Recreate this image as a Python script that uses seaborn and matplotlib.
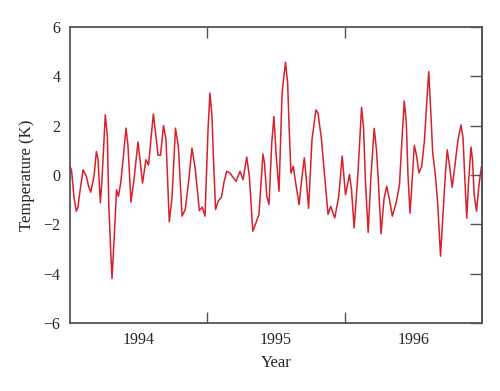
import numpy as np
import matplotlib
matplotlib.use("Agg")
import matplotlib.pyplot as plt
from matplotlib.ticker import FixedLocator, NullFormatter, FixedFormatter
import seaborn as sns
import pandas as pd

# Decimal year and temperature anomaly (K)
years = 1994 + np.array([
    0.000, 0.011, 0.029, 0.046, 0.058, 0.071, 0.095, 0.119, 0.135, 0.151,
    0.175, 0.192, 0.204, 0.221, 0.233, 0.248, 0.257, 0.272, 0.282, 0.296,
    0.306, 0.326, 0.339, 0.353, 0.369, 0.386, 0.408, 0.422, 0.444, 0.466,
    0.495, 0.510, 0.528, 0.553, 0.572, 0.590, 0.607, 0.626, 0.641, 0.659,
    0.681, 0.699, 0.723, 0.743, 0.768, 0.789, 0.816, 0.839, 0.863, 0.888,
    0.912, 0.942, 0.963, 0.983, 1.005, 1.019, 1.034, 1.046, 1.060, 1.080,
    1.103, 1.121, 1.141, 1.165, 1.187, 1.209, 1.238, 1.260, 1.287, 1.306,
    1.331, 1.354, 1.376, 1.391, 1.405, 1.416, 1.433, 1.449, 1.469, 1.485,
    1.500, 1.522, 1.544, 1.569, 1.585, 1.597, 1.609, 1.626, 1.640, 1.668,
    1.689, 1.706, 1.718, 1.737, 1.762, 1.791, 1.806, 1.831, 1.851, 1.879,
    1.898, 1.928, 1.957, 1.982, 2.006, 2.035, 2.050, 2.069, 2.096, 2.123,
    2.137, 2.152, 2.171, 2.192, 2.215, 2.232, 2.246, 2.265, 2.286, 2.306,
    2.325, 2.347, 2.376, 2.399, 2.419, 2.434, 2.449, 2.461, 2.476, 2.494,
    2.507, 2.523, 2.541, 2.561, 2.581, 2.597, 2.612, 2.626, 2.641, 2.659,
    2.678, 2.698, 2.715, 2.734, 2.747, 2.763, 2.783, 2.803, 2.825, 2.847,
    2.862, 2.873, 2.889, 2.902, 2.920, 2.931, 2.943, 2.960, 2.978, 2.996,
])
temps = np.array([
    0.35, 0.20, -0.90, -1.47, -1.30, -0.72, 0.21, -0.05, -0.45, -0.70,
    -0.05, 0.95, 0.62, -1.13, -0.19, 1.43, 2.44, 1.56, -1.13, -3.02,
    -4.20, -2.08, -0.60, -0.86, -0.33, 0.60, 1.90, 1.20, -1.10, -0.19,
    1.34, 0.60, -0.33, 0.62, 0.40, 1.50, 2.47, 1.56, 0.80, 0.80,
    2.00, 1.43, -1.90, -0.90, 1.90, 1.15, -1.67, -1.40, -0.30, 1.09,
    0.25, -1.45, -1.30, -1.67, 1.83, 3.32, 2.37, 0.48, -1.40, -1.05,
    -0.90, -0.30, 0.15, 0.08, -0.10, -0.26, 0.15, -0.19, 0.73, -0.06,
    -2.28, -1.94, -1.60, -0.30, 0.85, 0.50, -0.86, -1.20, 1.29, 2.37,
    0.90, -0.66, 3.30, 4.57, 3.71, 1.70, 0.08, 0.35, -0.20, -1.20,
    -0.10, 0.70, 0.00, -1.35, 1.43, 2.64, 2.50, 1.45, 0.15, -1.60,
    -1.27, -1.74, -0.86, 0.77, -0.80, 0.02, -0.60, -2.15, 0.00, 2.74,
    1.96, -0.33, -2.33, 0.00, 1.89, 1.00, -0.33, -2.38, -1.00, -0.46,
    -0.95, -1.67, -1.10, -0.40, 1.60, 3.00, 2.10, 0.00, -1.55, 0.00,
    1.20, 0.80, 0.08, 0.35, 1.40, 2.90, 4.19, 2.70, 0.90, 0.08,
    -1.20, -3.29, -1.67, 0.10, 1.02, 0.40, -0.50, 0.40, 1.40, 2.03,
    1.50, 0.10, -1.75, -0.30, 1.13, 0.60, -0.80, -1.47, -0.40, 0.35,
])
year_labels = ["1994", "1995", "1996"]

df = pd.DataFrame({"Year": years, "Temperature": temps})

sns.set_style("white")
plt.rcParams["font.family"] = ["Liberation Serif", "DejaVu Serif"]

spine_col = "#555555"
fig = plt.figure(figsize=(5.0, 3.91), dpi=100)
ax = fig.add_axes([0.14, 0.174, 0.824, 0.757])

sns.lineplot(data=df, x="Year", y="Temperature", ax=ax,
             color="#d8202c", linewidth=1.1, sort=False,
             solid_joinstyle="round", solid_capstyle="round")

ax.set_xlim(1994, 1997)
ax.set_ylim(-6, 6)
ax.set_yticks(np.arange(-6, 7, 2))

# year boundaries as unlabeled ticks, labels centred in each year
ax.xaxis.set_major_locator(FixedLocator([1995, 1996]))
ax.xaxis.set_major_formatter(NullFormatter())
ax.xaxis.set_minor_locator(FixedLocator([1994.5, 1995.5, 1996.5]))
ax.xaxis.set_minor_formatter(FixedFormatter(year_labels))
ax.tick_params(axis="x", which="major", direction="in", length=8,
               width=1.0, color=spine_col, top=True, bottom=True)
ax.tick_params(axis="x", which="minor", length=0, pad=6.5, labelsize=11.5)

ax.tick_params(axis="y", which="major", direction="out", length=5,
               width=1.0, color=spine_col, labelsize=11.5, pad=2)
right = ax.secondary_yaxis("right")
right.set_yticks(np.arange(-6, 7, 2))
right.tick_params(direction="in", length=9, width=1.0, color=spine_col,
                  labelright=False)
right.spines["right"].set_color(spine_col)
right.spines["right"].set_linewidth(1.3)

for s in ax.spines.values():
    s.set_color(spine_col)
    s.set_linewidth(1.3)

ax.set_xlabel("Year", fontsize=12, labelpad=5)
ax.set_ylabel("Temperature (K)", fontsize=12, labelpad=6)

fig.savefig("out.png", dpi=100, facecolor="white")
